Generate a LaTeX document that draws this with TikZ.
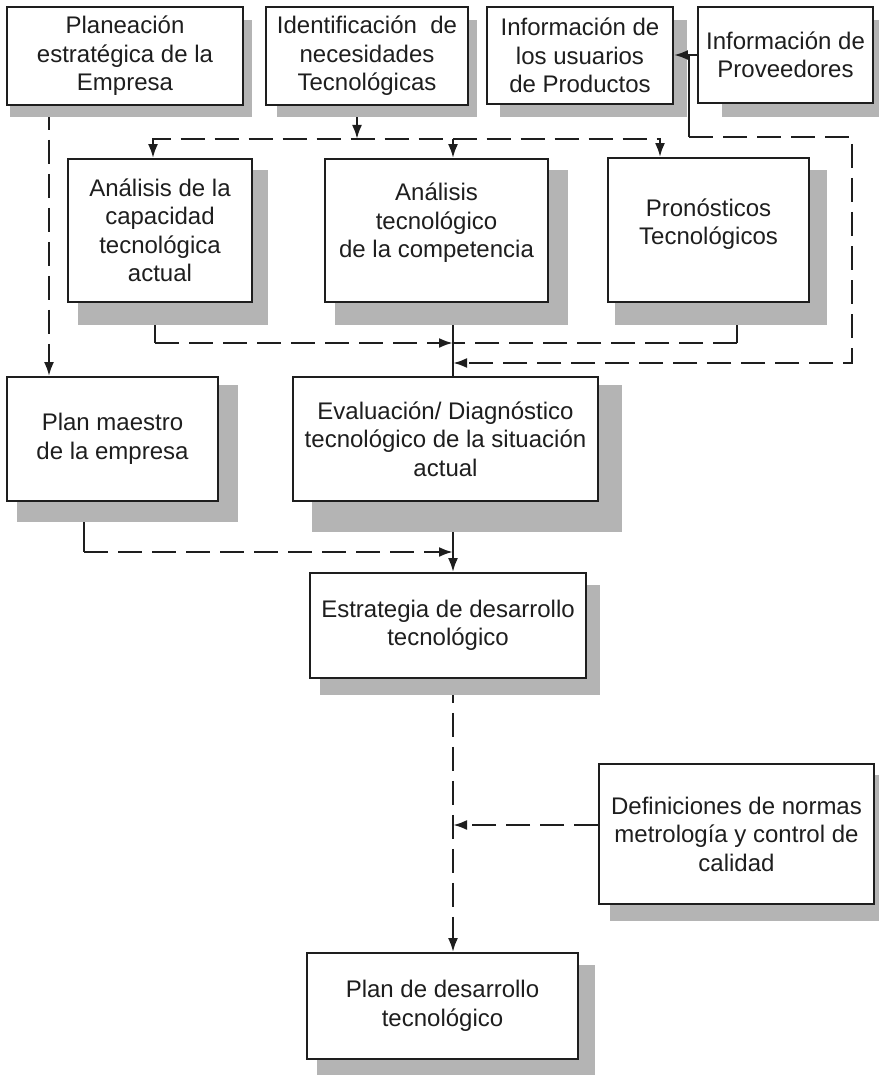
\documentclass[tikz,border=0pt]{standalone}
\usepackage{fontspec}
\setmainfont{Liberation Sans}
\usetikzlibrary{arrows.meta,calc}
\pgfdeclarelayer{links}
\pgfdeclarelayer{shades}
\pgfsetlayers{links,shades,main}
\definecolor{shadowgray}{RGB}{180,180,180}
\definecolor{ink}{RGB}{30,30,30}

\begin{document}
\begin{tikzpicture}[x=1pt,y=-1pt,
  box/.style={draw=ink, line width=1.8pt, fill=white, align=center, inner sep=0pt,
              font=\fontsize{24}{28.5}\selectfont, text=ink},
  link/.style={draw=ink, line width=2.4pt},
  dlink/.style={link, dash pattern=on 24pt off 10pt},
  arr/.style={-{Latex[length=14pt,width=10pt]}},
  arrboth/.style={{Latex[length=14pt,width=10pt]}-{Latex[length=14pt,width=10pt]}},
  shade/.style={fill=shadowgray}]

\useasboundingbox (0,0) rectangle (879,1075);

% ---------- boxes ----------
\node[box, minimum width=236pt, minimum height=98pt] (plane) at (125,56)
  {Planeación\\estratégica de la\\Empresa};
\node[box, minimum width=202pt, minimum height=98pt] (ident) at (367,56)
  {Identificación \ de\\necesidades\\Tecnológicas};
\node[box, minimum width=186pt, minimum height=97pt] (usu) at (580,55.5)
  {Información de\\los usuarios\\de Productos};
\node[box, minimum width=175pt, minimum height=96pt] (prov) at (785.5,55)
  {Información de\\Proveedores};
\node[box, minimum width=184pt, minimum height=143pt] (cap) at (160,230.5)
  {Análisis de la\\capacidad\\tecnológica\\actual};
\node[box, minimum width=223pt, minimum height=143pt] (tec) at (436.5,230.5)
  {Análisis\\tecnológico\\de la competencia\\[-8pt]};
\node[box, minimum width=201pt, minimum height=144pt] (pron) at (708.5,230)
  {Pronósticos\\Tecnológicos\\[-12pt]};
\node[box, minimum width=211pt, minimum height=124pt] (maestro) at (112.5,439)
  {Plan maestro\\de la empresa};
\node[box, minimum width=305pt, minimum height=124pt] (eval) at (445.5,439)
  {Evaluación/ Diagnóstico\\tecnológico de la situación\\actual};
\node[box, minimum width=276pt, minimum height=105pt] (estr) at (448,625.5)
  {Estrategia de desarrollo\\tecnológico};
\node[box, minimum width=275pt, minimum height=140pt] (def) at (736.5,834)
  {Definiciones de normas\\metrología y control de\\calidad};
\node[box, minimum width=271pt, minimum height=106pt] (plan) at (442.5,1006)
  {Plan de desarrollo\\tecnológico};

% ---------- drop shadows ----------
\begin{pgfonlayer}{shades}
  \fill[shade] (10,20) rectangle (252,117);
  \fill[shade] (277,20) rectangle (477,117);
  \fill[shade] (500,20) rectangle (687,117);
  \fill[shade] (722,20) rectangle (879,117);
  \fill[shade] (78,170) rectangle (268,325);
  \fill[shade] (335,170) rectangle (568,325);
  \fill[shade] (615,170) rectangle (827,325);
  \fill[shade] (17,385) rectangle (238,522);
  \fill[shade] (312,385) rectangle (622,532);
  \fill[shade] (320,585) rectangle (600,695);
  \fill[shade] (610,775) rectangle (879,921);
  \fill[shade] (317,965) rectangle (595,1075);
\end{pgfonlayer}

% ---------- connectors ----------
\coordinate (busL) at (153,139);
\coordinate (busR) at (660,139);
\coordinate (busM) at (453,139);
\coordinate (idf)  at (357,139);
\coordinate (cA)   at (155,343);
\coordinate (pA)   at (737,343);
\coordinate (jA)   at (453,343);
\coordinate (jB)   at (453,363);
\coordinate (fb1)  at (689,137);
\coordinate (fb2)  at (852,137);
\coordinate (fb3)  at (852,363);
\coordinate (lx)   at (49,0);
\coordinate (mA)   at (84,552);
\coordinate (jC)   at (453,552);
\coordinate (jD)   at (453,825);

% supplier information crosses the shadow of the users box
\draw[link,arr] (prov.west) -- (prov.west -| usu.east);
\draw[link] (prov.west -| fb1) -- (fb1);

\begin{pgfonlayer}{links}
  % needs feed the three analyses
  \draw[link,arr] (ident.south -| idf) -- (idf);
  \draw[dlink,arrboth] (busL |- cap.north) -- (busL) -- (busR) -- (busR |- pron.north);
  \draw[link,arr] (busM) -- (busM |- tec.north);

  % analyses converge on the evaluation
  \draw[link] (cap.south -| cA) -- (cA);
  \draw[dlink,arr] (cA) -- (jA);
  \draw[link] (pron.south -| pA) -- (pA);
  \draw[dlink] (pA) -- (jA);
  \draw[link] (tec.south -| jA) -- (eval.north -| jA);

  % supplier information loop
  \draw[dlink,arr] (fb1) -- (fb2) -- (fb3) -- (jB);

  % strategic planning to master plan
  \draw[dlink,arr] (plane.south -| lx) -- (maestro.north -| lx);

  % master plan and evaluation to strategy
  \draw[link] (maestro.south -| mA) -- (mA);
  \draw[dlink,arr] (mA) -- (jC);
  \draw[link,arr] (eval.south -| jC) -- (estr.north -| jC);

  % strategy to development plan
  \draw[dlink,arr] (estr.south -| jC) -- (plan.north -| jC);
  \draw[dlink,arr] (def.west |- jD) -- (jD);
\end{pgfonlayer}

\end{tikzpicture}
\end{document}
